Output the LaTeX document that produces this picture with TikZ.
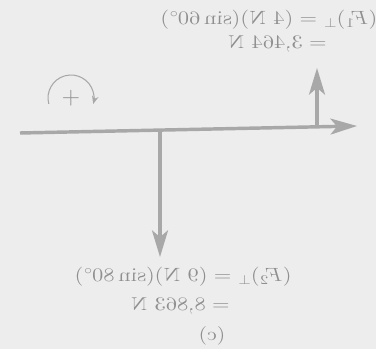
\documentclass[tikz,border=0pt]{standalone}
\usepackage{graphicx}
\usetikzlibrary{arrows.meta}

\definecolor{papier}{HTML}{EDEDED}
\definecolor{crayon}{HTML}{A8A8A8}
\newcommand{\miroir}[1]{\scalebox{-1.2}[1]{#1}}

\begin{document}
\begin{tikzpicture}[x=0.02646cm, y=0.02646cm,
  force/.style={line width=2.6pt, draw=crayon, -{Stealth[length=20pt,width=12pt,inset=5pt]}},
  texte/.style={text=crayon!85!black, font=\fontsize{14}{17}\selectfont, inner sep=0pt}]

% Fond
\fill[papier] (0,0) rectangle (376,-349);
\useasboundingbox (0,0) rectangle (376,-349);

% Points
\coordinate (gauche) at (20,-133);
\coordinate (droite) at (357,-126);
\coordinate (pied1) at (317,-127);
\coordinate (tete1) at (317,-68);
\coordinate (pied2) at (160,-131);
\coordinate (tete2) at (160,-257);

% Axe horizontal
\draw[force] (gauche) -- (droite);

% Composante de F1
\draw[force] (pied1) -- (tete1);

% Composante de F2
\draw[force] (pied2) -- (tete2);

% Sens positif
\node[texte, font=\fontsize{19}{20}\selectfont] (plus) at (71,-98) {+};
\draw[crayon, line width=0.8pt, -{Stealth[length=6pt,width=5pt]}]
  ([shift={(195:23)}]plus.center) arc[start angle=195, end angle=-15, radius=23];

% Textes (image en miroir)
\node[texte, anchor=west] (F1perp) at (160,-20) {\miroir{$(F_1)_\perp = (4\ \mathrm{N})(\sin 60^\circ)$}};
\node[texte, anchor=east] (F1val) at (327,-44) {\miroir{$= 3{,}464$ N}};
\node[texte, anchor=east] (F2perp) at (292,-277) {\miroir{$(F_2)_\perp = (9\ \mathrm{N})(\sin 80^\circ)$}};
\node[texte, anchor=east] (F2val) at (230,-306) {\miroir{$= 8{,}863$ N}};
\node[texte] (lettre) at (212,-336) {\miroir{(c)}};
\end{tikzpicture}
\end{document}
